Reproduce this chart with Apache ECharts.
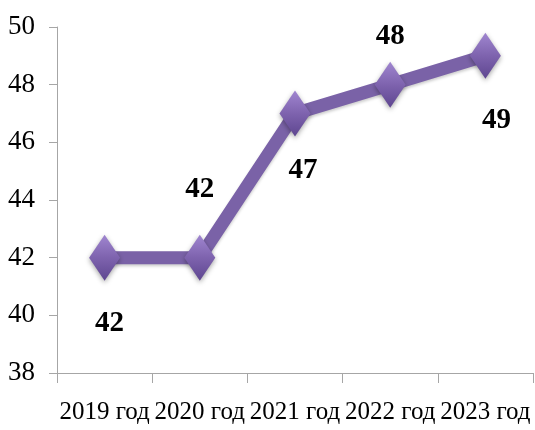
<!DOCTYPE html>
<html><head><meta charset="utf-8">
<script src="https://cdn.jsdelivr.net/npm/echarts@6/dist/echarts.min.js"></script>
<style>html,body{margin:0;padding:0;background:#fff}#c{width:535px;height:430px}</style>
</head><body><div id="c"></div>
<script>
var categories = ['2019 год', '2020 год', '2021 год', '2022 год', '2023 год'];
var values = [42, 42, 47, 48, 49];
var yTicks = [38, 40, 42, 44, 46, 48, 50];

var labelOffsets = [[5, 66], [0, -68], [8, 57], [0, -48], [11, 65]];

var chart = echarts.init(document.getElementById('c'));
var fam = '"Liberation Serif", "Times New Roman", serif';
chart.setOption({
  animation: false,
  grid: {left: 57, right: 2, top: 27, bottom: 57, containLabel: false},
  xAxis: {
    type: 'category', data: categories, boundaryGap: true,
    axisLine: {lineStyle: {color: '#A6A6A6', width: 1}},
    axisTick: {show: true, length: 10, lineStyle: {color: '#A6A6A6'}},
    axisLabel: {interval: 0, color: '#000', fontFamily: fam, fontSize: 25, margin: 27}
  },
  yAxis: {
    type: 'value', min: yTicks[0], max: yTicks[yTicks.length - 1], interval: 2,
    axisLine: {show: true, lineStyle: {color: '#A6A6A6', width: 1}},
    axisTick: {show: true, length: 8, lineStyle: {color: '#A6A6A6'}},
    splitLine: {show: false},
    axisLabel: {color: '#000', fontFamily: fam, fontSize: 27, margin: 22}
  },
  series: [{
    type: 'line',
    data: values.map(function (v, i) {
      return {value: v, label: {offset: labelOffsets[i]}};
    }),
    lineStyle: {color: '#7A62A7', width: 13, shadowColor: 'rgba(0,0,0,0.2)', shadowBlur: 3, shadowOffsetY: 2},
    symbol: 'diamond',
    symbolSize: [31, 46],
    itemStyle: {
      color: new echarts.graphic.LinearGradient(0, 0, 0, 1, [
        {offset: 0, color: '#A086D0'},
        {offset: 0.5, color: '#7E63AE'},
        {offset: 1, color: '#5E4690'}
      ]),
      shadowColor: 'rgba(0,0,0,0.35)', shadowBlur: 5, shadowOffsetY: 2
    },
    label: {
      show: true, position: 'inside', color: '#000',
      fontFamily: fam, fontWeight: 'bold', fontSize: 29
    }
  }]
});
</script></body></html>
